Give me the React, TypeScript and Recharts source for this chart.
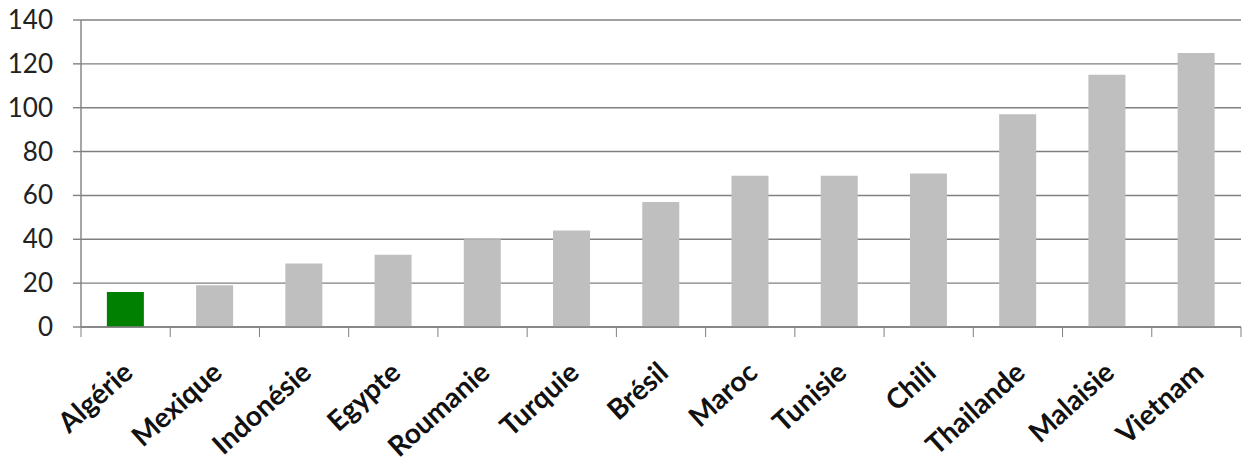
import React from "react";
import { Bar, BarChart, CartesianGrid, Cell, XAxis, YAxis } from "recharts";

const countries = [
  "Algérie", "Mexique", "Indonésie", "Egypte", "Roumanie", "Turquie", "Brésil",
  "Maroc", "Tunisie", "Chili", "Thailande", "Malaisie", "Vietnam",
];
const values = [16, 19, 29, 33, 40, 44, 57, 69, 69, 70, 97, 115, 125];
const yTicks = [0, 20, 40, 60, 80, 100, 120, 140];
const highlight = "Algérie";

const data = countries.map((name, i) => ({ name, value: values[i] }));

const axisColor = "#808080";
const font = "Lato, 'Open Sans', sans-serif";

// category ticks sit on the band edges, labels slanted under each bar
const CountryTick = (props: any) => {
  const { x, y, payload, index } = props;
  const half = payload.offset || 0;
  const last = index === countries.length - 1;
  return (
    <g>
      <line x1={x - half} x2={x - half} y1={y - 8} y2={y + 2} stroke={axisColor} />
      {last && <line x1={x + half} x2={x + half} y1={y - 8} y2={y + 2} stroke={axisColor} />}
      <text
        transform={`translate(${x + 9},${y + 40}) rotate(-42)`}
        textAnchor="end"
        fontSize={28}
        fontWeight={700}
        fontFamily={font}
        fill="#111"
      >
        {payload.value}
      </text>
    </g>
  );
};

const ValueTick = (props: any) => {
  const { x, y, payload } = props;
  return (
    <text x={x - 18} y={y} dy={9} textAnchor="end" fontSize={26} fontFamily={font} fill="#222">
      {payload.value}
    </text>
  );
};

export default function App() {
  return (
    <div style={{ position: "absolute", left: 0, top: 0, background: "#fff" }}>
      <BarChart width={1243} height={466} data={data} barCategoryGap="29%"
        margin={{ top: 20, right: 2, left: 0, bottom: 0 }}>
        <CartesianGrid vertical={false} stroke={axisColor} strokeWidth={1.4} />
        <XAxis dataKey="name" interval={0} height={139} tickLine={false}
          stroke={axisColor} strokeWidth={1.4} tick={<CountryTick />} />
        <YAxis domain={[0, 140]} ticks={yTicks} width={81} tickSize={8}
          stroke={axisColor} strokeWidth={1.4} tick={<ValueTick />} />
        <Bar dataKey="value" isAnimationActive={false}>
          {data.map((d) => (
            <Cell key={d.name} fill={d.name === highlight ? "#008000" : "#bfbfbf"} />
          ))}
        </Bar>
      </BarChart>
    </div>
  );
}
